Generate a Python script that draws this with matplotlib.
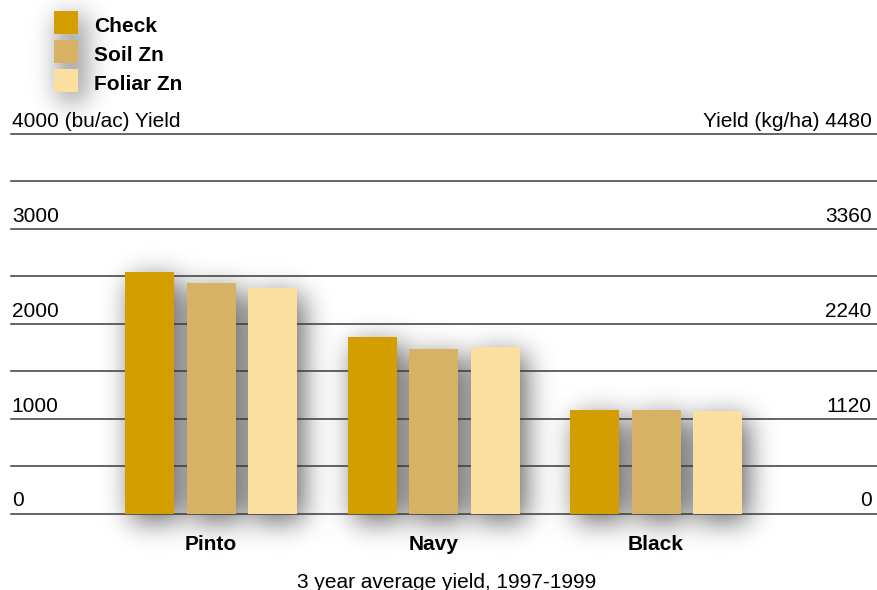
import numpy as np
import matplotlib
matplotlib.use("Agg")
import matplotlib.pyplot as plt
from matplotlib.patches import Rectangle

plt.rcParams['font.family'] = ['Liberation Sans', 'DejaVu Sans']

beans = ["Pinto", "Navy", "Black"]
treatments = ["Check", "Soil Zn", "Foliar Zn"]
check = [2545, 1860, 1091]
soil_zn = [2429, 1733, 1091]
foliar_zn = [2376, 1758, 1080]
colors = ["#D59E00", "#D7B265", "#FBDFA0"]

left_ticks = [0, 1000, 2000, 3000, 4000]
right_ticks = [0, 1120, 2240, 3360, 4480]
grid_lines = np.arange(0, 4001, 500)

W, H = 878, 590


def blur(a, sigma):
    r = int(3 * sigma)
    x = np.arange(-r, r + 1)
    k = np.exp(-x ** 2 / (2.0 * sigma ** 2))
    k /= k.sum()
    a = np.apply_along_axis(lambda m: np.convolve(m, k, mode="same"), 0, a)
    a = np.apply_along_axis(lambda m: np.convolve(m, k, mode="same"), 1, a)
    return a


def drop_shadow(fig, patches, dx=6, dy=7, sigma=14, alpha=0.62):
    # soft shadow under the given patches, built in pixel space
    mask = np.zeros((H, W))
    for p in patches:
        bb = p.get_window_extent()
        c0, c1 = int(round(bb.x0)) + dx, int(round(bb.x1)) + dx
        r0, r1 = int(round(H - bb.y1)) + dy, int(round(H - bb.y0)) + dy
        mask[max(r0, 0):max(r1, 0), max(c0, 0):max(c1, 0)] = 1.0
    a = blur(mask, sigma)
    img = np.zeros((H, W, 4))
    img[..., 3] = np.clip(a * alpha, 0, 1)
    fig.figimage(img, 0, 0, origin="upper", zorder=-1)


fig = plt.figure(figsize=(W / 100, H / 100), dpi=100)
y0, y4000 = 513.5, 134.0
ax = fig.add_axes([11 / W, (H - y0) / H, 866 / W, (y0 - y4000) / H])
ax.set_xlim(-0.899, 2.993)
ax.set_ylim(0, 4000)
ax.axis("off")

for g in grid_lines:
    ax.axhline(g, color="#3a3a3a", lw=1.1, zorder=1, clip_on=False)

x = np.arange(len(beans))
width = 0.22
step = 0.2764
series = [check, soil_zn, foliar_zn]
bar_patches = []
for i, vals in enumerate(series):
    pos = x + (i - 1) * step
    bars = ax.bar(pos, vals, width, color=colors[i], zorder=3, linewidth=0)
    bar_patches.extend(bars.patches)

off = 7 * 72 / 100
for lt, rt in zip(left_ticks, right_ticks):
    ltxt = str(lt) if lt != 4000 else "4000 (bu/ac) Yield"
    rtxt = str(rt) if rt != 4480 else "Yield (kg/ha) 4480"
    ax.annotate(ltxt, (0.001, lt), xycoords=("axes fraction", "data"),
                xytext=(0, off), textcoords="offset points",
                ha="left", va="baseline", fontsize=15)
    ax.annotate(rtxt, (0.994, lt), xycoords=("axes fraction", "data"),
                xytext=(0, off), textcoords="offset points",
                ha="right", va="baseline", fontsize=15)

for xi, name in zip(x, beans):
    ax.annotate(name, (xi, 0), xytext=(0, -36.5 * 72 / 100),
                textcoords="offset points", ha="center", va="baseline",
                fontsize=15, fontweight="bold")

fig.text(446.5 / W, (H - 588) / H, "3 year average yield, 1997-1999",
         ha="center", va="baseline", fontsize=15)

# legend swatches
for i, (name, c) in enumerate(zip(treatments, colors)):
    top = 11 + i * 29
    sw = Rectangle((54 / W, (H - top - 23) / H), 24 / W, 23 / H,
                   transform=fig.transFigure, facecolor=c, linewidth=0)
    fig.add_artist(sw)
    bar_patches.append(sw)
    fig.text(94 / W, (H - top - 20.7) / H, name, ha="left", va="baseline",
             fontsize=15, fontweight="bold")

drop_shadow(fig, bar_patches)

fig.savefig("out.png", dpi=100)
